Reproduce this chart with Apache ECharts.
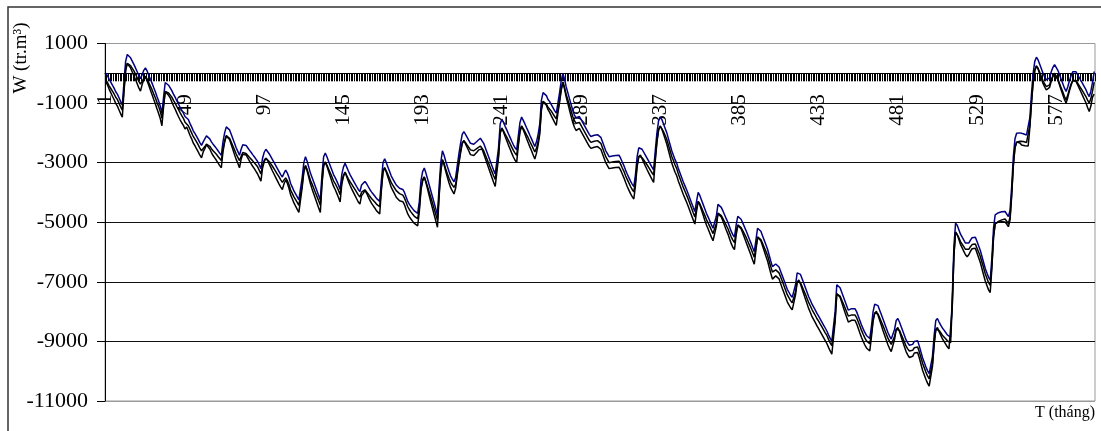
<!DOCTYPE html>
<html>
<head>
<meta charset="utf-8">
<title>W (tr.m3)</title>
<script src="https://cdn.jsdelivr.net/npm/echarts@6/dist/echarts.min.js"></script>
<style>
  html, body { margin: 0; padding: 0; background: #fff; }
  #chart { width: 1101px; height: 431px; }
</style>
</head>
<body>
<div id="chart"></div>
<script>
// thang 1..600
const months = Array.from({ length: 600 }, (_, i) => String(i + 1))

const yTicks = [-11000, -9000, -7000, -5000, -3000, -1000, 1000]

// duong xanh (tren), moi dong = 12 thang
const wBlue = [
  0, -80, -200, -300, -400, -500, -620, -700, -820, -950, -1070, -300,
  400, 630, 600, 520, 480, 300, 180, 50, -80, -180, -50, 100,
  180, 80, -60, -200, -330, -480, -620, -780, -930, -1100, -1340, -800,
  -310, -330, -400, -460, -580, -700, -800, -920, -1030, -1140, -1240, -1330,
  -1450, -1420, -1550, -1680, -1800, -1930, -2020, -2120, -2220, -2330, -2420, -2300,
  -2200, -2100, -2120, -2200, -2300, -2380, -2450, -2520, -2600, -2680, -2750, -2300,
  -2000, -1800, -1770, -1900, -2050, -2200, -2350, -2500, -2620, -2750, -2550, -2400,
  -2370, -2420, -2500, -2580, -2650, -2730, -2800, -2880, -2960, -3080, -3200, -2850,
  -2650, -2550, -2600, -2700, -2800, -2900, -3000, -3100, -3200, -3300, -3400, -3480,
  -3350, -3250, -3350, -3500, -3700, -3820, -3950, -4050, -4150, -4250, -4300, -3500,
  -3000, -2800, -2950, -3150, -3350, -3500, -3650, -3800, -3950, -4100, -4250, -3400,
  -2800, -2680, -2800, -2950, -3100, -3250, -3400, -3500, -3620, -3750, -3900, -3400,
  -3150, -3020, -3150, -3280, -3400, -3500, -3600, -3700, -3800, -3900, -3970, -3750,
  -3700, -3630, -3700, -3800, -3900, -3980, -4050, -4120, -4200, -4250, -4300, -3600,
  -3000, -2870, -3000, -3150, -3300, -3450, -3550, -3650, -3750, -3800, -3860, -3850,
  -3900, -4000, -4150, -4300, -4400, -4480, -4550, -4620, -4680, -4700, -4300, -3600,
  -3300, -3180, -3350, -3550, -3750, -3950, -4150, -4350, -4550, -4750, -3800, -3000,
  -2600, -2750, -2950, -3130, -3300, -3450, -3550, -3640, -3500, -3100, -2700, -2350,
  -2050, -1960, -2050, -2150, -2250, -2350, -2400, -2380, -2330, -2280, -2220, -2180,
  -2200, -2350, -2500, -2650, -2800, -2950, -3100, -3250, -3380, -3400, -2500, -1700,
  -1540, -1650, -1780, -1900, -2030, -2150, -2280, -2400, -2500, -2570, -2100, -1650,
  -1470, -1580, -1700, -1830, -1950, -2080, -2200, -2330, -2460, -2300, -2050, -1700,
  -900, -650, -610, -750, -880, -950, -1050, -1150, -1250, -1340, -1000, -650,
  -250, 0, -200, -450, -650, -850, -1050, -1250, -1400, -1500, -1450, -1450,
  -1550, -1650, -1750, -1850, -1950, -2050, -2120, -2100, -2080, -2070, -2060, -2070,
  -2150, -2300, -2450, -2600, -2700, -2800, -2790, -2780, -2770, -2760, -2750, -2750,
  -2850, -2980, -3100, -3250, -3380, -3500, -3620, -3720, -3800, -3400, -2800, -2500,
  -2440, -2550, -2650, -2750, -2850, -2950, -3050, -3150, -3240, -2600, -2000, -1600,
  -1470, -1550, -1700, -1850, -2000, -2200, -2400, -2600, -2750, -2900, -3020, -3200,
  -3350, -3500, -3650, -3780, -3910, -4050, -4200, -4350, -4500, -4640, -4300, -4000,
  -4100, -4250, -4400, -4550, -4700, -4820, -4950, -5080, -5200, -5260, -4800, -4400,
  -4380, -4500, -4620, -4750, -4880, -5000, -5150, -5300, -5420, -5500, -5100, -4800,
  -4780, -4900, -5020, -5150, -5280, -5420, -5560, -5700, -5850, -5990, -5600, -5200,
  -5170, -5300, -5450, -5600, -5750, -5900, -6100, -6300, -6490, -6450, -6400, -6380,
  -6500, -6650, -6800, -6950, -7100, -7250, -7350, -7450, -7520, -7550, -7100, -6700,
  -6640, -6750, -6900, -7050, -7200, -7350, -7500, -7620, -7750, -7850, -7950, -8060,
  -8150, -8250, -8350, -8450, -8550, -8650, -8780, -8900, -9000, -9060, -8000, -7100,
  -7050, -7200, -7350, -7500, -7650, -7800, -7950, -8000, -7900, -7850, -7900, -8000,
  -8150, -8300, -8450, -8580, -8700, -8800, -8860, -8900, -8500, -8000, -7750, -7690,
  -7800, -7950, -8100, -8250, -8400, -8550, -8700, -8820, -8920, -8950, -8600, -8300,
  -8230, -8350, -8500, -8650, -8800, -8950, -9050, -9130, -9180, -9100, -9000, -8950,
  -8980, -9150, -9350, -9550, -9700, -9850, -9980, -10080, -10130, -9500, -8800, -8300,
  -8230, -8350, -8450, -8550, -8620, -8700, -8780, -8840, -8860, -7500, -5800, -5030,
  -5100, -5250, -5400, -5500, -5600, -5700, -5760, -5700, -5600, -5520, -5480, -5500,
  -5650, -5800, -5950, -6150, -6350, -6550, -6700, -6850, -6940, -6200, -5200, -4750,
  -4700, -4680, -4660, -4650, -4640, -4640, -4700, -4810, -4600, -3800, -2800, -2200,
  -2010, -1980, -2000, -2050, -2030, -2050, -2070, -2070, -1500, -700, 0, 400,
  540, 450, 300, 150, 0, -120, -220, -275, -150, 50, 200, 290,
  250, 100, -50, -200, -350, -500, -610, -450, -250, -80, 50, 90,
  50, -50, -150, -250, -350, -450, -550, -680, -780, -600, -300, 60
]

// duong den thu nhat (giua)
const wBlack1 = [
  -235, -310, -420, -510, -600, -690, -805, -880, -1000, -1130, -1240, -550,
  150, 330, 320, 260, 240, 80, -30, -150, -270, -360, -300, -170,
  -100, -190, -310, -430, -550, -690, -820, -970, -1110, -1280, -1510, -1050,
  -610, -610, -660, -700, -800, -910, -1000, -1110, -1210, -1320, -1420, -1510,
  -1640, -1640, -1760, -1880, -2000, -2120, -2210, -2300, -2400, -2510, -2600, -2540,
  -2460, -2380, -2390, -2450, -2530, -2600, -2660, -2720, -2790, -2860, -2930, -2550,
  -2260, -2090, -2070, -2180, -2310, -2440, -2570, -2710, -2820, -2930, -2790, -2660,
  -2650, -2690, -2750, -2820, -2870, -2940, -3000, -3070, -3140, -3260, -3380, -3100,
  -2920, -2850, -2880, -2960, -3040, -3120, -3210, -3300, -3390, -3480, -3580, -3660,
  -3580, -3510, -3600, -3740, -3920, -4030, -4150, -4240, -4330, -4430, -4480, -3750,
  -3270, -3100, -3230, -3410, -3590, -3720, -3860, -4000, -4140, -4280, -4430, -3650,
  -3070, -2980, -3080, -3210, -3340, -3470, -3610, -3700, -3810, -3930, -4080, -3650,
  -3420, -3320, -3430, -3540, -3640, -3720, -3810, -3900, -3990, -4080, -4150, -3990,
  -3960, -3910, -3970, -4050, -4130, -4200, -4260, -4320, -4390, -4430, -4480, -3850,
  -3270, -3170, -3280, -3410, -3540, -3670, -3760, -3850, -3940, -3980, -4040, -4040,
  -4090, -4190, -4330, -4480, -4580, -4660, -4730, -4800, -4860, -4880, -4540, -3860,
  -3570, -3480, -3630, -3810, -3990, -4170, -4360, -4550, -4740, -4930, -4050, -3260,
  -2900, -3030, -3210, -3370, -3520, -3660, -3750, -3830, -3730, -3350, -2960, -2620,
  -2330, -2260, -2330, -2410, -2490, -2570, -2610, -2600, -2560, -2520, -2470, -2440,
  -2460, -2600, -2740, -2880, -3020, -3160, -3300, -3440, -3560, -3580, -2750, -1970,
  -1840, -1930, -2040, -2140, -2250, -2360, -2480, -2590, -2680, -2750, -2350, -1920,
  -1770, -1860, -1960, -2070, -2170, -2290, -2400, -2520, -2640, -2520, -2290, -1950,
  -1160, -940, -910, -1030, -1140, -1190, -1270, -1360, -1450, -1530, -1240, -910,
  -520, -300, -480, -710, -890, -1070, -1260, -1450, -1590, -1680, -1640, -1650,
  -1750, -1850, -1950, -2050, -2150, -2250, -2320, -2300, -2280, -2270, -2260, -2270,
  -2350, -2500, -2650, -2800, -2900, -3000, -2990, -2980, -2970, -2960, -2950, -2950,
  -3050, -3180, -3290, -3440, -3560, -3680, -3800, -3900, -3980, -3630, -3060, -2780,
  -2740, -2830, -2910, -2990, -3070, -3160, -3250, -3340, -3420, -2840, -2260, -1880,
  -1770, -1830, -1960, -2090, -2220, -2410, -2600, -2790, -2930, -3080, -3200, -3380,
  -3530, -3680, -3830, -3960, -4090, -4230, -4380, -4530, -4680, -4820, -4540, -4300,
  -4380, -4510, -4640, -4770, -4910, -5020, -5140, -5260, -5380, -5440, -5040, -4690,
  -4680, -4780, -4880, -4990, -5100, -5210, -5350, -5490, -5600, -5680, -5340, -5090,
  -5080, -5180, -5280, -5390, -5500, -5630, -5760, -5890, -6030, -6170, -5840, -5490,
  -5470, -5580, -5710, -5840, -5970, -6110, -6300, -6490, -6670, -6640, -6600, -6590,
  -6700, -6840, -6980, -7130, -7280, -7430, -7530, -7630, -7700, -7730, -7340, -6990,
  -6940, -7030, -7160, -7290, -7420, -7560, -7700, -7810, -7930, -8030, -8130, -8240,
  -8320, -8420, -8510, -8610, -8710, -8800, -8930, -9050, -9140, -9200, -8240, -7400,
  -7350, -7480, -7610, -7740, -7870, -8010, -8150, -8200, -8110, -8070, -8110, -8200,
  -8340, -8480, -8630, -8760, -8880, -8980, -9040, -9080, -8730, -8260, -8040, -7990,
  -8080, -8210, -8340, -8470, -8610, -8750, -8890, -9000, -9100, -9130, -8840, -8590,
  -8530, -8630, -8760, -8890, -9020, -9160, -9250, -9320, -9360, -9300, -9210, -9170,
  -9190, -9350, -9540, -9730, -9880, -10030, -10160, -10260, -10310, -9740, -9070, -8590,
  -8530, -8630, -8710, -8790, -8840, -8910, -8980, -9030, -9040, -7750, -6080, -5330,
  -5390, -5520, -5650, -5740, -5820, -5910, -5960, -5910, -5820, -5750, -5720, -5730,
  -5870, -6010, -6150, -6340, -6530, -6730, -6880, -7030, -7120, -6450, -5480, -5050,
  -5000, -4970, -4940, -4920, -4900, -4890, -4940, -5040, -4840, -4050, -3080, -2500,
  -2310, -2270, -2280, -2320, -2290, -2300, -2320, -2320, -1760, -980, -290, 100,
  250, 170, 30, -110, -250, -360, -450, -495, -390, -210, -80, 0,
  -40, -190, -340, -490, -630, -780, -890, -730, -530, -360, -240, -200,
  -240, -330, -420, -510, -600, -690, -780, -900, -1000, -850, -600, -300
]

// duong den thu hai (duoi)
const wBlack2 = [
  -290, -390, -530, -650, -770, -880, -1010, -1100, -1230, -1360, -1470, -620,
  80, 330, 280, 180, 120, -80, -210, -350, -490, -600, -380, -220,
  -120, -240, -400, -560, -710, -870, -1020, -1190, -1350, -1520, -1760, -1120,
  -610, -650, -740, -820, -960, -1090, -1200, -1330, -1450, -1560, -1660, -1750,
  -1870, -1800, -1940, -2080, -2200, -2340, -2430, -2540, -2640, -2750, -2840, -2640,
  -2530, -2400, -2440, -2540, -2660, -2760, -2840, -2920, -3010, -3100, -3170, -2630,
  -2320, -2110, -2070, -2220, -2390, -2560, -2730, -2890, -3020, -3170, -2890, -2720,
  -2680, -2740, -2840, -2940, -3030, -3120, -3200, -3290, -3380, -3500, -3620, -3180,
  -2970, -2850, -2920, -3040, -3160, -3280, -3390, -3500, -3610, -3720, -3820, -3900,
  -3710, -3580, -3690, -3860, -4080, -4210, -4350, -4460, -4570, -4670, -4720, -3830,
  -3320, -3100, -3270, -3490, -3710, -3880, -4040, -4200, -4360, -4520, -4670, -3730,
  -3120, -2980, -3120, -3290, -3460, -3630, -3790, -3900, -4030, -4170, -4320, -3730,
  -3470, -3320, -3470, -3620, -3760, -3880, -3990, -4100, -4210, -4320, -4390, -4100,
  -4030, -3940, -4020, -4140, -4260, -4360, -4440, -4520, -4610, -4670, -4720, -3930,
  -3320, -3170, -3320, -3490, -3660, -3830, -3940, -4050, -4160, -4220, -4280, -4260,
  -4310, -4410, -4570, -4720, -4820, -4900, -4970, -5040, -5100, -5120, -4640, -3920,
  -3620, -3480, -3670, -3890, -4110, -4330, -4540, -4750, -4960, -5170, -4130, -3320,
  -2900, -3070, -3290, -3490, -3680, -3840, -3950, -4050, -3860, -3430, -3020, -2670,
  -2360, -2260, -2370, -2490, -2610, -2730, -2790, -2760, -2700, -2640, -2570, -2520,
  -2540, -2700, -2860, -3020, -3180, -3340, -3500, -3660, -3800, -3820, -2830, -2020,
  -1840, -1970, -2120, -2260, -2410, -2540, -2680, -2810, -2920, -2990, -2430, -1970,
  -1770, -1900, -2040, -2190, -2330, -2470, -2600, -2740, -2880, -2680, -2400, -2030,
  -1230, -960, -910, -1070, -1220, -1310, -1430, -1540, -1650, -1750, -1340, -970,
  -570, -300, -520, -790, -1010, -1230, -1440, -1650, -1810, -1920, -1860, -1850,
  -1950, -2050, -2150, -2250, -2350, -2450, -2520, -2500, -2480, -2470, -2460, -2470,
  -2550, -2700, -2850, -3000, -3100, -3200, -3190, -3180, -3170, -3160, -3150, -3150,
  -3250, -3380, -3510, -3660, -3800, -3920, -4040, -4140, -4220, -3760, -3130, -2810,
  -2740, -2870, -2990, -3110, -3230, -3340, -3450, -3560, -3660, -2940, -2320, -1910,
  -1770, -1870, -2040, -2210, -2380, -2590, -2800, -3010, -3170, -3320, -3440, -3620,
  -3770, -3920, -4070, -4200, -4330, -4470, -4620, -4770, -4920, -5060, -4640, -4300,
  -4420, -4590, -4760, -4930, -5090, -5220, -5360, -5500, -5620, -5680, -5140, -4710,
  -4680, -4820, -4960, -5110, -5260, -5390, -5550, -5710, -5840, -5920, -5440, -5110,
  -5080, -5220, -5360, -5510, -5660, -5810, -5960, -6110, -6270, -6410, -5940, -5510,
  -5470, -5620, -5790, -5960, -6130, -6290, -6500, -6710, -6910, -6860, -6800, -6770,
  -6900, -7060, -7220, -7370, -7520, -7670, -7770, -7870, -7940, -7970, -7440, -7010,
  -6940, -7070, -7240, -7410, -7580, -7740, -7900, -8030, -8170, -8270, -8370, -8480,
  -8570, -8670, -8770, -8870, -8970, -9070, -9200, -9320, -9430, -9490, -8340, -7400,
  -7350, -7520, -7690, -7860, -8030, -8190, -8350, -8400, -8290, -8230, -8290, -8400,
  -8560, -8720, -8870, -9000, -9120, -9220, -9280, -9320, -8860, -8330, -8060, -7990,
  -8120, -8290, -8460, -8630, -8790, -8950, -9110, -9240, -9340, -9370, -8940, -8610,
  -8530, -8670, -8840, -9010, -9180, -9340, -9450, -9540, -9600, -9500, -9390, -9330,
  -9370, -9550, -9760, -9970, -10120, -10270, -10400, -10500, -10550, -9840, -9120, -8610,
  -8530, -8670, -8790, -8910, -9000, -9090, -9180, -9250, -9280, -7840, -6110, -5330,
  -5410, -5580, -5750, -5860, -5980, -6090, -6160, -6090, -5980, -5890, -5840, -5870,
  -6030, -6190, -6350, -6560, -6770, -6970, -7120, -7270, -7360, -6540, -5510, -5050,
  -5000, -4990, -4980, -4980, -4980, -4990, -5060, -5150, -4930, -4120, -3110, -2500,
  -2310, -2300, -2340, -2410, -2400, -2430, -2450, -2440, -1830, -1010, -300, 100,
  240, 140, -20, -180, -340, -460, -560, -615, -470, -260, -100, -10,
  -50, -220, -390, -560, -720, -880, -1000, -810, -590, -400, -250, -210,
  -270, -390, -510, -630, -750, -870, -990, -1150, -1280, -1100, -800, -700
]

const serif = '"Liberation Serif", "Times New Roman", serif'

// vi tri truc ngang (W = 0) tinh tu mep duoi vung ve
const gridTop = 43.5
const gridBottom = 30
const plotH = 431 - gridTop - gridBottom
const zeroShift = plotH * (0 - yTicks[0]) / (yTicks[yTicks.length - 1] - yTicks[0])

const myChart = echarts.init(document.getElementById('chart'))

let option = {
  animation: false,
  backgroundColor: '#fff',
  grid: {
    left: 105,
    right: 6,
    top: gridTop,
    bottom: gridBottom,
    show: true,
    borderColor: '#999',
    borderWidth: 1
  },
  graphic: [
    {
      // khung ngoai
      type: 'rect',
      shape: { x: 8, y: 7, width: 1100, height: 430 },
      style: { fill: 'none', stroke: '#333', lineWidth: 1.5 },
      silent: true
    },
    {
      type: 'text',
      x: 21,
      y: 58,
      rotation: Math.PI / 2,
      style: {
        text: 'W (tr.m³)',
        font: '19px ' + serif,
        fill: '#000',
        align: 'center',
        verticalAlign: 'middle'
      }
    },
    {
      type: 'text',
      x: 1095,
      y: 413,
      style: {
        text: 'T (tháng)',
        font: '16px ' + serif,
        fill: '#000',
        align: 'right',
        verticalAlign: 'middle'
      }
    }
  ],
  xAxis: {
    type: 'category',
    data: months,
    boundaryGap: true,
    offset: -zeroShift,
    axisLine: { onZero: false, lineStyle: { color: '#000', width: 1 } },
    axisTick: { show: true, interval: 0, length: 8, lineStyle: { color: '#000', width: 1 } },
    axisLabel: {
      interval: 47,
      rotate: 90,
      margin: 21,
      color: '#000',
      fontFamily: serif,
      fontSize: 21
    },
    splitLine: { show: false }
  },
  yAxis: {
    type: 'value',
    min: yTicks[0],
    max: yTicks[yTicks.length - 1],
    interval: 2000,
    axisLine: { show: true, lineStyle: { color: '#000', width: 1 } },
    axisTick: { show: true, length: 8, lineStyle: { color: '#000' } },
    axisLabel: {
      margin: 17,
      color: '#000',
      fontFamily: serif,
      fontSize: 22,
      formatter: function (v) {
        return String(v)
      }
    },
    splitLine: {
      show: true,
      lineStyle: {
        color: ['#999', '#111', '#111', '#111', '#111', '#111', '#999'],
        width: 1
      }
    }
  },
  series: [
    {
      name: 'W1',
      type: 'line',
      data: wBlue,
      showSymbol: false,
      symbol: 'none',
      lineStyle: { color: '#000080', width: 1.5 }
    },
    {
      name: 'W2',
      type: 'line',
      data: wBlack1,
      showSymbol: false,
      symbol: 'none',
      lineStyle: { color: '#000', width: 1.5 }
    },
    {
      name: 'W3',
      type: 'line',
      data: wBlack2,
      showSymbol: false,
      symbol: 'none',
      lineStyle: { color: '#000', width: 1.5 }
    }
  ]
}

myChart.setOption(option)
</script>
</body>
</html>
